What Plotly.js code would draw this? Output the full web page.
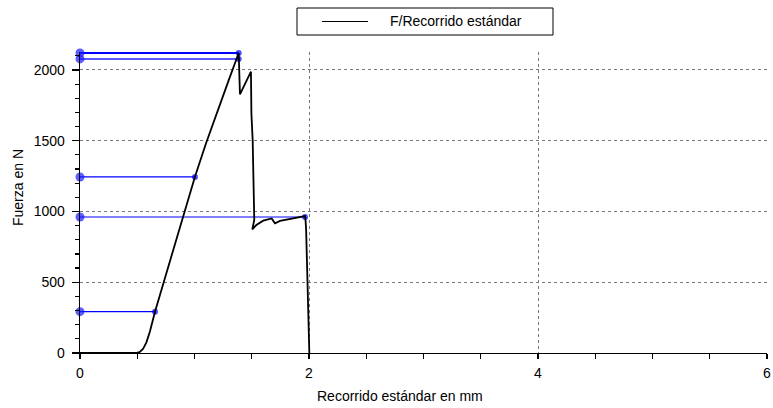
<!DOCTYPE html>
<html>
<head>
<meta charset="utf-8">
<script src="https://cdn.plot.ly/plotly-3.0.1.min.js"></script>
<style>html,body{margin:0;padding:0;background:#fff;}#chart{width:773px;height:408px;}</style>
</head>
<body>
<div id="chart"></div>
<script>
// Curve: F / Recorrido estándar
const travelMm = [0, 0.25, 0.50, 0.52, 0.55, 0.58, 0.61, 0.655, 0.757, 0.902, 1.004, 1.10, 1.20, 1.30, 1.386, 1.388, 1.397, 1.493, 1.494, 1.496, 1.494, 1.497, 1.508, 1.513, 1.518, 1.522, 1.505, 1.540, 1.600, 1.674, 1.703, 1.747, 1.850, 1.965, 1.968, 1.975, 2.003];
const forceN   = [0, 0, 2, 6, 28, 75, 150, 292, 571, 967, 1246, 1480, 1712, 1930, 2120, 2078, 1828, 1988, 1750, 1700, 1850, 1690, 1505, 1272, 1050, 940, 874, 904, 935, 951, 916, 933, 950, 968, 960, 870, 0];

// Marked points (projected to the force axis)
const markX = [1.386, 1.386, 1.004, 1.965, 0.655];
const markY = [2120, 2078, 1244, 961, 292];

const seriesName = "F/Recorrido estándar";
const xTitle = "Recorrido estándar en mm";
const yTitle = "Fuerza en N";

const font = "Liberation Sans, Arial, sans-serif";

const traces = [];
const markColors = ["#0000ff", "#5a5aff", "#0000ff", "#0000ff", "#0000ff"];
const markWidths = [2.2, 2, 1.2, 1.2, 1.2];
for (let i = 0; i < markX.length; i++) {
  traces.push({
    x: [0, markX[i]], y: [markY[i], markY[i]],
    type: "scatter", mode: "lines+markers", showlegend: false, hoverinfo: "skip",
    cliponaxis: false,
    line: {color: markColors[i], width: markWidths[i]},
    marker: {color: ["#1a1aff", "#0000ff"], size: [9, 6], symbol: "circle", line: {width: 0}}
  });
}
traces.push({
  x: travelMm, y: forceN, type: "scatter", mode: "lines", name: seriesName,
  showlegend: false, line: {color: "#000000", width: 1.8}
});

const W = 687, H = 301; // plot size in px
const px = v => (v - 80) / W;
const py = v => (353 - v) / H;

const layout = {
  width: 773, height: 408,
  margin: {l: 80, r: 6, t: 52, b: 55},
  paper_bgcolor: "#ffffff", plot_bgcolor: "#ffffff",
  font: {family: font, size: 14, color: "#000"},
  showlegend: false,
  xaxis: {
    range: [0, 6], dtick: 2, tick0: 0,
    showline: true, linecolor: "#000", linewidth: 1.3,
    ticks: "outside", ticklen: 5, tickcolor: "#000", tickwidth: 1.2,
    minor: {dtick: 0.5, ticks: "outside", ticklen: 5, tickcolor: "#000", tickwidth: 1.2, showgrid: false},
    showgrid: true, gridcolor: "#7a7a7a", griddash: "dot", gridwidth: 1,
    zeroline: false, tickfont: {size: 14, family: font}, ticklabelstandoff: 2
  },
  xaxis2: {
    overlaying: "x", anchor: "y", side: "bottom", range: [0, 6], dtick: 2, tick0: 0,
    showline: false, ticks: "inside", ticklen: 3, tickcolor: "#000", tickwidth: 1.2,
    minor: {dtick: 0.5, ticks: "inside", ticklen: 3, tickcolor: "#000", tickwidth: 1.2, showgrid: false},
    showgrid: false, zeroline: false, showticklabels: false
  },
  yaxis: {
    range: [0, 2127], dtick: 500, tick0: 0,
    showline: true, linecolor: "#000", linewidth: 1.3,
    ticks: "outside", ticklen: 7, tickcolor: "#000", tickwidth: 1.2,
    minor: {dtick: 100, ticks: "outside", ticklen: 4, tickcolor: "#000", tickwidth: 1.2, showgrid: false},
    showgrid: true, gridcolor: "#7a7a7a", griddash: "dot", gridwidth: 1,
    zeroline: false, tickfont: {size: 14, family: font}, ticklabelstandoff: 4
  },
  yaxis2: {
    overlaying: "y", anchor: "x", side: "left", range: [0, 2127], dtick: 500, tick0: 0,
    showline: false, ticks: "inside", ticklen: 6, tickcolor: "#000", tickwidth: 1.2,
    minor: {dtick: 100, ticks: "inside", ticklen: 6, tickcolor: "#000", tickwidth: 1.2, showgrid: false},
    showgrid: false, zeroline: false, showticklabels: false
  },
  annotations: [
    {text: xTitle, xref: "paper", yref: "paper", x: px(400), y: py(396), xanchor: "center", yanchor: "middle", showarrow: false, font: {size: 14, family: font}},
    {text: yTitle, xref: "paper", yref: "paper", x: px(18), y: py(187), xanchor: "center", yanchor: "middle", textangle: -90, showarrow: false, font: {size: 14, family: font}},
    {text: seriesName, xref: "paper", yref: "paper", x: px(388), y: py(21.5), xanchor: "left", yanchor: "middle", showarrow: false, font: {size: 14, family: font}}
  ],
  shapes: [
    {type: "rect", xref: "paper", yref: "paper", x0: px(297), x1: px(553), y0: py(35), y1: py(8), line: {color: "#000", width: 1}, fillcolor: "rgba(0,0,0,0)"},
    {type: "line", xref: "paper", yref: "paper", x0: px(322), x1: px(368), y0: py(21.5), y1: py(21.5), line: {color: "#000", width: 1.2}}
  ]
};

Plotly.newPlot("chart", traces, layout, {staticPlot: true, displayModeBar: false});
</script>
</body>
</html>
